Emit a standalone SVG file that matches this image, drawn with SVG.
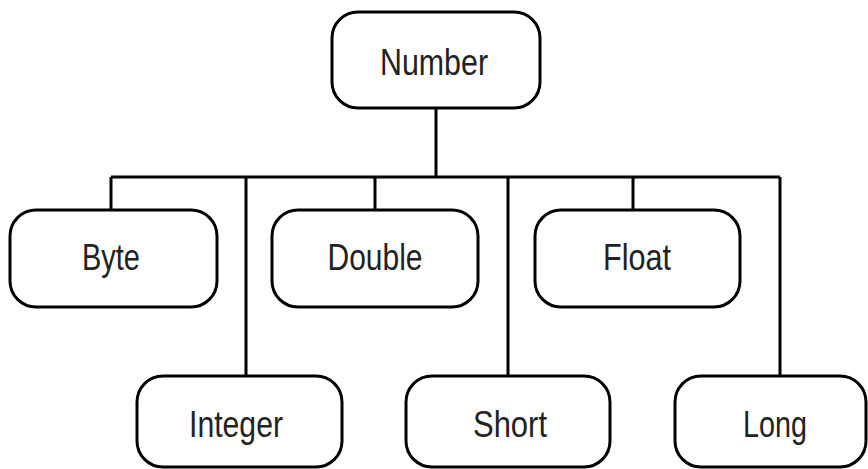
<svg xmlns="http://www.w3.org/2000/svg" width="868" height="469" viewBox="0 0 868 469">
<style>
.box{fill:#fff;stroke:#000;stroke-width:3}
.lbl{font-family:"Liberation Sans",Arial,sans-serif;font-size:37px;fill:#222;text-anchor:middle}
.ln{stroke:#000;stroke-width:3;fill:none}
</style>
<rect width="868" height="469" fill="#fff"/>
<g id="connectors">
<path class="ln" d="M436 108V177M111 177H780M111 177V210M246 177V376M375 177V210M508 177V376M633 177V210M780 177V376"/>
</g>
<g id="number"><rect class="box" x="332" y="12" width="208" height="96" rx="26"/><text class="lbl" x="434" y="75" textLength="108" lengthAdjust="spacingAndGlyphs">Number</text></g>
<g id="byte"><rect class="box" x="10" y="210" width="207" height="97" rx="26"/><text class="lbl" x="111" y="270" textLength="58" lengthAdjust="spacingAndGlyphs">Byte</text></g>
<g id="double"><rect class="box" x="272" y="210" width="206" height="97" rx="26"/><text class="lbl" x="375" y="270" textLength="95" lengthAdjust="spacingAndGlyphs">Double</text></g>
<g id="float"><rect class="box" x="535" y="210" width="205" height="97" rx="26"/><text class="lbl" x="637" y="270" textLength="68" lengthAdjust="spacingAndGlyphs">Float</text></g>
<g id="integer"><rect class="box" x="137" y="376" width="205" height="91" rx="26"/><text class="lbl" x="236" y="437" textLength="94" lengthAdjust="spacingAndGlyphs">Integer</text></g>
<g id="short"><rect class="box" x="406" y="376" width="204" height="91" rx="26"/><text class="lbl" x="510" y="437" textLength="74" lengthAdjust="spacingAndGlyphs">Short</text></g>
<g id="long"><rect class="box" x="675" y="376" width="191" height="91" rx="26"/><text class="lbl" x="775" y="437" textLength="64" lengthAdjust="spacingAndGlyphs">Long</text></g>
</svg>
